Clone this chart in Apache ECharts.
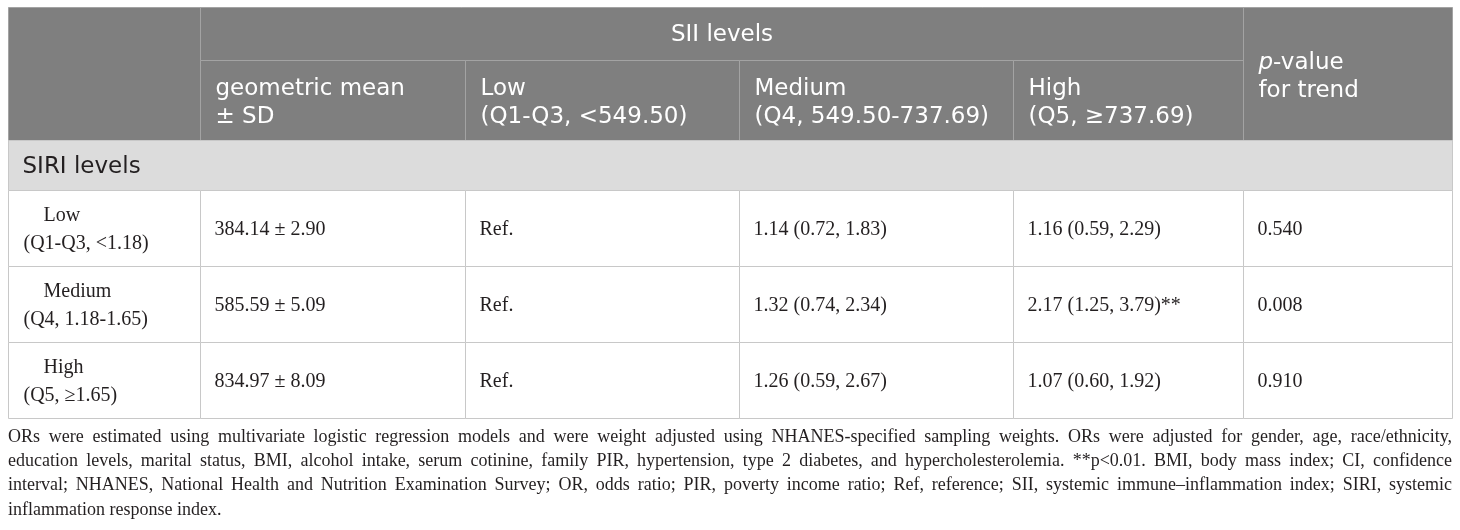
<!DOCTYPE html>
<html>
<head>
<meta charset="utf-8">
<script src="https://cdn.jsdelivr.net/npm/echarts@6/dist/echarts.min.js"></script>
<style>
html,body{margin:0;padding:0;background:#fff;}
#chart{width:1460px;height:530px;}
</style>
</head>
<body>
<div id="chart"></div>
<script>
// ---------- table content ----------
const spanHeader = 'SII levels';
const subHeaders = ['geometric mean\n± SD', 'Low\n(Q1-Q3, <549.50)', 'Medium\n(Q4, 549.50-737.69)', 'High\n(Q5, ≥737.69)'];
const trendHeader = '{i|p}-value\nfor trend';
const sectionLabel = 'SIRI levels';
const siriLevels = ['Low', 'Medium', 'High'];
const siriRanges = ['(Q1-Q3, <1.18)', '(Q4, 1.18-1.65)', '(Q5, ≥1.65)'];
const geoMeanSD = ['384.14 ± 2.90', '585.59 ± 5.09', '834.97 ± 8.09'];
const lowSII = ['Ref.', 'Ref.', 'Ref.'];
const mediumSII = ['1.14 (0.72, 1.83)', '1.32 (0.74, 2.34)', '1.26 (0.59, 2.67)'];
const highSII = ['1.16 (0.59, 2.29)', '2.17 (1.25, 3.79)**', '1.07 (0.60, 1.92)'];
const pTrend = ['0.540', '0.008', '0.910'];
const footnoteLines = [
  'ORs were estimated using multivariate logistic regression models and were weight adjusted using NHANES-specified sampling weights. ORs were adjusted for gender, age, race/ethnicity,',
  'education levels, marital status, BMI, alcohol intake, serum cotinine, family PIR, hypertension, type 2 diabetes, and hypercholesterolemia. **p<0.01. BMI, body mass index; CI, confidence',
  'interval; NHANES, National Health and Nutrition Examination Survey; OR, odds ratio; PIR, poverty income ratio; Ref, reference; SII, systemic immune–inflammation index; SIRI, systemic',
  'inflammation response index.'
];

// ---------- layout (not data) ----------
const colWidths = [192, 265, 274, 274, 230, 209];
const rowHeights = [53, 80, 50, 76, 76, 76];
const SANS = '"DejaVu Sans", sans-serif';
const SERIF = '"Liberation Serif", serif';
const HEAD_SIZE = 23, BODY_SIZE = 20;
const HEAD_BG = '#7f7f7f', HEAD_LINE = '#a3a3a3', SECT_BG = '#dcdcdc', BODY_LINE = '#c8c8c8', INK = '#231f20';

const colX = [0]; colWidths.forEach(w => colX.push(colX[colX.length - 1] + w));
const rowY = [0]; rowHeights.forEach(h => rowY.push(rowY[rowY.length - 1] + h));

// cells: [x0, x1, y0, y1] spans + meta
const cells = [];
function addCell(c0, c1, r0, r1, meta) {
  cells.push({ value: [colX[c0], colX[c1], rowY[r0], rowY[r1]], meta: meta });
}
addCell(0, 1, 0, 2, { kind: 'head', text: '' });
addCell(1, 5, 0, 1, { kind: 'head', text: spanHeader, align: 'center', dy: 1 });
subHeaders.forEach((t, i) => addCell(1 + i, 2 + i, 1, 2, { kind: 'head', text: t, dy: 3 }));
addCell(5, 6, 0, 2, { kind: 'head', text: trendHeader, dy: 3 });
addCell(0, 6, 2, 3, { kind: 'section', text: sectionLabel });
siriLevels.forEach((lvl, r) => {
  const row = 3 + r;
  addCell(0, 1, row, row + 1, { kind: 'label', level: lvl, range: siriRanges[r] });
  [geoMeanSD, lowSII, mediumSII, highSII, pTrend].forEach((arr, c) => {
    addCell(1 + c, 2 + c, row, row + 1, { kind: 'body', text: arr[r] });
  });
});

const chart = echarts.init(document.getElementById('chart'));

function renderItem(params, api) {
  const meta = cells[params.dataIndex].meta;
  const p0 = api.coord([api.value(0), api.value(2)]);
  const p1 = api.coord([api.value(1), api.value(3)]);
  const x = Math.round(p0[0]) + 0.5, y = Math.round(p0[1]) + 0.5;
  const w = Math.round(p1[0]) - Math.round(p0[0]), h = Math.round(p1[1]) - Math.round(p0[1]);
  const isHead = meta.kind === 'head';
  const children = [{
    type: 'rect',
    shape: { x: x, y: y, width: w, height: h },
    style: {
      fill: isHead ? HEAD_BG : (meta.kind === 'section' ? SECT_BG : '#ffffff'),
      stroke: isHead ? HEAD_LINE : BODY_LINE,
      lineWidth: 1
    }
  }];
  const cy = y + h / 2;
  if (isHead && meta.text) {
    children.push({
      type: 'text',
      style: {
        text: meta.text,
        x: meta.align === 'center' ? x + w / 2 : x + 15,
        y: cy + (meta.dy || 0),
        align: meta.align === 'center' ? 'center' : 'left',
        verticalAlign: 'middle',
        font: HEAD_SIZE + 'px ' + SANS,
        lineHeight: 28,
        fill: '#ffffff',
        rich: { i: { fontStyle: 'italic', fontSize: HEAD_SIZE, fontFamily: SANS, fill: '#ffffff' } }
      }
    });
  } else if (meta.kind === 'section') {
    children.push({
      type: 'text',
      style: { text: meta.text, x: x + 14, y: cy + 2, verticalAlign: 'middle', font: HEAD_SIZE + 'px ' + SANS, fill: INK }
    });
  } else if (meta.kind === 'label') {
    children.push({
      type: 'text',
      style: { text: meta.level, x: x + 35, y: cy - 13, verticalAlign: 'middle', font: BODY_SIZE + 'px ' + SERIF, fill: INK }
    });
    children.push({
      type: 'text',
      style: { text: meta.range, x: x + 15, y: cy + 15, verticalAlign: 'middle', font: BODY_SIZE + 'px ' + SERIF, fill: INK }
    });
  } else if (meta.kind === 'body') {
    children.push({
      type: 'text',
      style: { text: meta.text, x: x + 14, y: cy + 1, verticalAlign: 'middle', font: BODY_SIZE + 'px ' + SERIF, fill: INK }
    });
  }
  return { type: 'group', children: children };
}

// ---------- justified footnote ----------
const FOOT_LEFT = 8, FOOT_WIDTH = 1444, FOOT_TOP = 437, FOOT_STEP = 24.3, FOOT_SIZE = 18;
const footFont = FOOT_SIZE + 'px ' + SERIF;
const mctx = document.createElement('canvas').getContext('2d');
mctx.font = footFont;
const footGraphics = [];
footnoteLines.forEach((line, i) => {
  const y = FOOT_TOP + i * FOOT_STEP;
  if (i === footnoteLines.length - 1) {
    footGraphics.push({ type: 'text', x: FOOT_LEFT, y: y, style: { text: line, font: footFont, fill: INK, verticalAlign: 'middle' } });
    return;
  }
  const words = line.split(' ');
  const widths = words.map(wd => mctx.measureText(wd).width);
  const total = widths.reduce((a, b) => a + b, 0);
  const gap = (FOOT_WIDTH - total) / (words.length - 1);
  let xx = FOOT_LEFT;
  words.forEach((wd, k) => {
    footGraphics.push({ type: 'text', x: xx, y: y, style: { text: wd, font: footFont, fill: INK, verticalAlign: 'middle' } });
    xx += widths[k] + gap;
  });
});

chart.setOption({
  animation: false,
  grid: { left: 8, right: 8, top: 7, bottom: 112 },
  xAxis: { type: 'value', min: 0, max: colX[colX.length - 1], show: false },
  yAxis: { type: 'value', min: 0, max: rowY[rowY.length - 1], inverse: true, show: false },
  series: [{
    type: 'custom',
    renderItem: renderItem,
    data: cells.map(c => c.value),
    clip: false
  }],
  graphic: footGraphics
});
</script>
</body>
</html>
